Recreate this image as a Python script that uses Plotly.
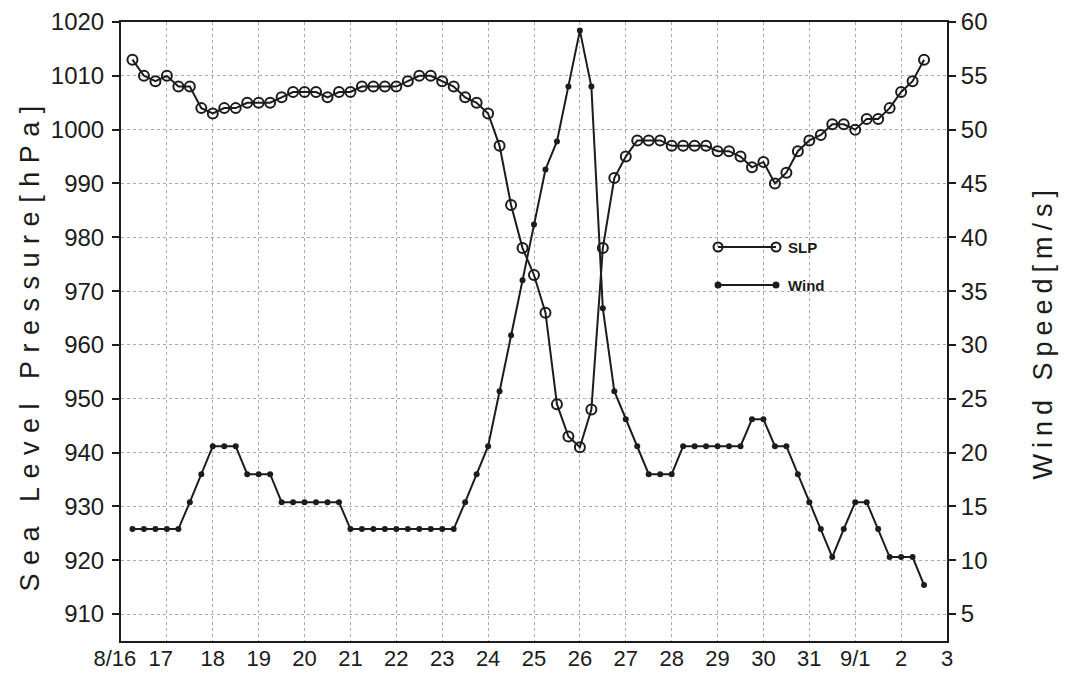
import pandas as pd
import plotly.graph_objects as go

# 6-hourly track record, 8/16 06 UTC through 9/2 12 UTC
times = pd.date_range("2016-08-16 06:00", periods=70, freq="6h")

slp_hpa = [
    1013, 1010, 1009, 1010, 1008, 1008, 1004, 1003, 1004, 1004,
    1005, 1005, 1005, 1006, 1007, 1007, 1007, 1006, 1007, 1007,
    1008, 1008, 1008, 1008, 1009, 1010, 1010, 1009, 1008, 1006,
    1005, 1003, 997, 986, 978, 973, 966, 949, 943, 941,
    948, 978, 991, 995, 998, 998, 998, 997, 997, 997,
    997, 996, 996, 995, 993, 994, 990, 992, 996, 998,
    999, 1001, 1001, 1000, 1002, 1002, 1004, 1007, 1009, 1013,
]

wind_ms = [
    12.9, 12.9, 12.9, 12.9, 12.9, 15.4, 18.0, 20.6, 20.6, 20.6,
    18.0, 18.0, 18.0, 15.4, 15.4, 15.4, 15.4, 15.4, 15.4, 12.9,
    12.9, 12.9, 12.9, 12.9, 12.9, 12.9, 12.9, 12.9, 12.9, 15.4,
    18.0, 20.6, 25.7, 30.9, 36.0, 41.2, 46.3, 48.9, 54.0, 59.2,
    54.0, 33.4, 25.7, 23.1, 20.6, 18.0, 18.0, 18.0, 20.6, 20.6,
    20.6, 20.6, 20.6, 20.6, 23.1, 23.1, 20.6, 20.6, 18.0, 15.4,
    12.9, 10.3, 12.9, 15.4, 15.4, 12.9, 10.3, 10.3, 10.3, 7.7,
]

day_ticks = pd.date_range("2016-08-16", "2016-09-03", freq="D")
NB = "\u00a0"
day_labels = ["8/16" + NB * 2, "17" + NB * 2, "18", "19", "20", "21", "22", "23",
              "24", "25", "26", "27", "28", "29", "30", "31", "9/1", "2", "3"]

slp_ticks = list(range(910, 1021, 10))
wind_ticks = list(range(5, 61, 5))

INK = "#1c1c1c"
GRID = "#ababab"
FONT = "Liberation Sans, Arial, sans-serif"

fig = go.Figure()

fig.add_trace(go.Scatter(
    x=times, y=slp_hpa, name="SLP", mode="lines+markers",
    line=dict(color=INK, width=2),
    marker=dict(symbol="circle-open", size=10, color=INK, line=dict(width=2)),
    yaxis="y", showlegend=False,
))
fig.add_trace(go.Scatter(
    x=times, y=wind_ms, name="Wind", mode="lines+markers",
    line=dict(color=INK, width=2),
    marker=dict(symbol="circle", size=6, color=INK),
    yaxis="y2", showlegend=False,
))

# key samples drawn on a hidden unit-square axis pair
key_x = [0.7228, 0.793]
fig.add_trace(go.Scatter(
    x=key_x, y=[0.6365, 0.6365], mode="lines+markers", xaxis="x3", yaxis="y3",
    line=dict(color=INK, width=2),
    marker=dict(symbol="circle-open", size=9, color=INK, line=dict(width=2)),
    showlegend=False, hoverinfo="skip",
))
fig.add_trace(go.Scatter(
    x=key_x, y=[0.5751, 0.5751], mode="lines+markers", xaxis="x3", yaxis="y3",
    line=dict(color=INK, width=2),
    marker=dict(symbol="circle", size=7, color=INK),
    showlegend=False, hoverinfo="skip",
))

y_font = dict(family=FONT, size=24, color=INK)
x_font = dict(family=FONT, size=22, color=INK)

fig.update_layout(
    width=1065, height=675,
    margin=dict(l=121, r=118, t=22, b=34),
    paper_bgcolor="white", plot_bgcolor="white",
    font=dict(family=FONT, color=INK),
    xaxis=dict(
        type="date",
        range=[day_ticks[0], day_ticks[-1]],
        tickvals=day_ticks, ticktext=day_labels, tickangle=0,
        tickfont=x_font, ticks="", automargin=False, ticklabelstandoff=-3,
        showgrid=True, gridcolor=GRID, griddash="dot", gridwidth=1,
        showline=True, linecolor=INK, linewidth=2, mirror=True,
        zeroline=False,
    ),
    yaxis=dict(
        range=[905, 1020], automargin=False,
        tickvals=slp_ticks, tickfont=y_font,
        ticks="outside", ticklen=7, tickwidth=1.5, tickcolor=INK,
        ticklabelstandoff=3,
        showgrid=True, gridcolor=GRID, griddash="dot", gridwidth=1,
        showline=True, linecolor=INK, linewidth=2,
        zeroline=False,
    ),
    yaxis2=dict(
        range=[2.5, 60], overlaying="y", side="right", automargin=False,
        tickvals=wind_ticks, tickfont=y_font,
        ticks="outside", ticklen=7, tickwidth=1.5, tickcolor=INK,
        showgrid=False, showline=True, linecolor=INK, linewidth=2,
        zeroline=False,
    ),
    xaxis3=dict(range=[0, 1], overlaying="x", visible=False, fixedrange=True),
    yaxis3=dict(range=[0, 1], overlaying="y", visible=False, fixedrange=True),
)

fig.add_annotation(
    text='<span style="letter-spacing:8.5px">Sea&nbsp;Level&nbsp;Pressure[hPa]</span>',
    xref="paper", yref="paper", x=0, y=0.5, xanchor="center", yanchor="middle",
    xshift=-92, yshift=-13, textangle=-90, showarrow=False,
    font=dict(family=FONT, size=27, color=INK),
)
fig.add_annotation(
    text='<span style="letter-spacing:6px">Wind&nbsp;Speed[m/s]</span>',
    xref="paper", yref="paper", x=1, y=0.5, xanchor="center", yanchor="middle",
    xshift=95, yshift=0, textangle=-90, showarrow=False,
    font=dict(family=FONT, size=27, color=INK),
)

for label, ky in (("SLP", 0.6365), ("Wind", 0.5751)):
    fig.add_annotation(
        text=f"<b>{label}</b>", xref="paper", yref="paper",
        x=0.805, y=ky, xanchor="left", yanchor="middle", showarrow=False,
        font=dict(family=FONT, size=15, color=INK),
    )

fig.write_html("out.html")
